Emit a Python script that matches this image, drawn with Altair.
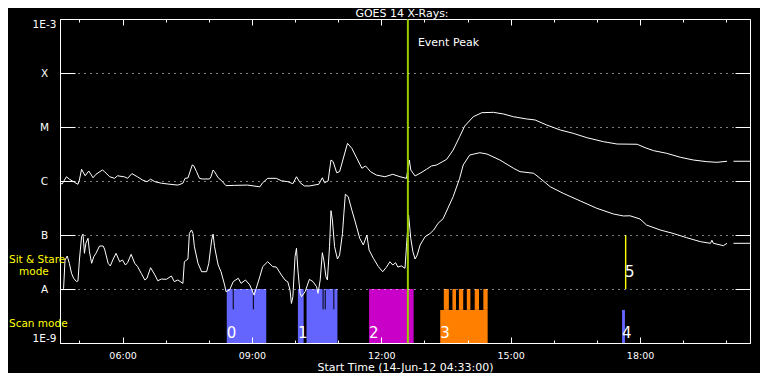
import json
import altair as alt
import pandas as pd

FONT = "DejaVu Sans"
DAY = "2012-06-14"

TITLE = "GOES 14 X-Rays:"
X_TITLE = "Start Time (14-Jun-12 04:33:00)"

# ---- GOES long channel (1-8 A) ----
long_times = ["04:33", "04:36", "04:42", "04:46", "04:53", "04:58", "05:00", "05:03", "05:08", "05:13",
              "05:19", "05:23", "05:32", "05:35", "05:42", "05:49", "05:53", "06:03", "06:07", "06:13",
              "06:21", "06:28", "06:34", "06:39", "06:45", "06:54", "07:06", "07:17", "07:24", "07:27",
              "07:31", "07:37", "07:39", "07:43", "07:47", "07:51", "08:01", "08:03", "08:06", "08:08",
              "08:13", "08:17", "08:24", "08:36", "08:54", "09:11", "09:15", "09:22", "09:34", "09:41",
              "09:50", "09:57", "10:02", "10:07", "10:13", "10:20", "10:33", "10:38", "10:41", "10:46",
              "10:50", "10:53", "10:58", "11:02", "11:13", "11:19", "11:26", "11:33", "11:38", "11:41",
              "11:45", "11:53", "12:05", "12:16", "12:26", "12:35", "12:39", "12:41", "12:47", "12:54",
              "13:03", "13:10", "13:17", "13:31", "13:40", "13:49", "13:56", "14:08", "14:20", "14:36",
              "14:50", "15:04", "15:22", "15:34", "15:50", "16:09", "16:27", "16:46", "17:09", "17:28",
              "17:56", "18:07", "18:19", "18:37", "18:56", "19:14", "19:33", "19:47", "20:01", "20:05",
              "20:10", "20:33"]
long_flux = [9.1e-7, 8.8e-7, 1.2e-6, 1.08e-6, 9.5e-7, 8.7e-7, 1.04e-6, 1.65e-6, 1.25e-6, 1.53e-6,
             1.15e-6, 1.33e-6, 1.6e-6, 1.49e-6, 1.2e-6, 1.12e-6, 1.25e-6, 1.19e-6, 1.12e-6, 1.37e-6,
             1.19e-6, 1.04e-6, 9.7e-7, 1.08e-6, 9.7e-7, 9.1e-7, 8.7e-7, 8.4e-7, 9.1e-7, 1.12e-6,
             1.14e-6, 1.98e-6, 1.92e-6, 1.49e-6, 1.12e-6, 1.09e-6, 1.09e-6, 1.19e-6, 1.6e-6, 1.49e-6,
             1.15e-6, 1.04e-6, 8.2e-7, 8.3e-7, 8.4e-7, 7.8e-7, 9.3e-7, 1.12e-6, 1.12e-6, 1.01e-6,
             9.7e-7, 8.9e-7, 1.2e-6, 9.3e-7, 8.1e-7, 8.1e-7, 8.7e-7, 1.15e-6, 9.3e-7, 1.0e-6,
             2.45e-6, 2.28e-6, 1.42e-6, 1.49e-6, 4.99e-6, 4.03e-6, 2.63e-6, 1.72e-6, 1.9e-6, 1.72e-6,
             1.49e-6, 1.29e-6, 1.2e-6, 1.33e-6, 1.2e-6, 1.12e-6, 2.45e-6, 1.6e-6, 1.24e-6, 1.39e-6,
             1.65e-6, 1.9e-6, 1.98e-6, 2.52e-6, 3.75e-6, 6.61e-6, 1.04e-5, 1.55e-5, 1.84e-5, 1.87e-5,
             1.74e-5, 1.55e-5, 1.41e-5, 1.35e-5, 1.09e-5, 8.8e-6, 7.64e-6, 6.34e-6, 5.35e-6, 4.84e-6,
             4.79e-6, 4.14e-6, 3.64e-6, 3.26e-6, 2.75e-6, 2.45e-6, 2.28e-6, 2.22e-6, 2.32e-6, None,
             2.32e-6, 2.32e-6]

# ---- GOES short channel (0.5-4 A) ----
short_times = ["04:33", "04:36", "04:38", "04:40", "04:43", "04:46", "04:49", "04:52", "04:56", "04:58",
               "05:00", "05:03", "05:05", "05:07", "05:09", "05:12", "05:14", "05:17", "05:20", "05:23",
               "05:28", "05:33", "05:35", "05:40", "05:43", "05:47", "05:51", "05:56", "06:00", "06:04",
               "06:07", "06:12", "06:17", "06:21", "06:26", "06:31", "06:34", "06:39", "06:45", "06:49",
               "06:54", "07:01", "07:08", "07:12", "07:17", "07:24", "07:26", "07:31", "07:33", "07:36",
               "07:38", "07:40", "07:45", "07:50", "07:57", "08:00", "08:04", "08:06", "08:08", "08:13",
               "08:17", "08:22", "08:24", "08:29", "08:34", "08:41", "08:45", "08:51", "08:57", "09:03",
               "09:06", "09:11", "09:15", "09:22", "09:29", "09:34", "09:41", "09:46", "09:50", "09:53",
               "09:55", "09:57", "10:00", "10:02", "10:04", "10:07", "10:09", "10:14", "10:20", "10:25",
               "10:30", "10:32", "10:35", "10:38", "10:40", "10:43", "10:45", "10:48", "10:50", "10:52",
               "10:55", "10:59", "11:02", "11:06", "11:08", "11:10", "11:14", "11:19", "11:23", "11:30",
               "11:35", "11:40", "11:43", "11:49", "11:56", "12:02", "12:07", "12:12", "12:16", "12:20",
               "12:23", "12:28", "12:33", "12:35", "12:38", "12:41", "12:44", "12:47", "12:50", "12:54",
               "13:01", "13:08", "13:13", "13:19", "13:26", "13:40", "13:49", "13:54", "14:03", "14:17",
               "14:27", "14:45", "15:04", "15:13", "15:32", "15:41", "15:55", "16:13", "16:37", "17:00",
               "17:23", "17:37", "17:46", "18:00", "18:09", "18:28", "18:46", "19:05", "19:24", "19:38",
               "19:40", "19:42", "19:56", "20:01", "20:05", "20:10", "20:33"]
short_flux = [1.03e-8, 9.6e-9, 1.03e-8, 3.44e-8, 4.08e-8, 2.99e-8, 1.95e-8, 1.58e-8, 1.37e-8, 1.41e-8,
              3.44e-8, 9.3e-8, 1.04e-7, 4.58e-8, 7.02e-8, 8.69e-8, 4.9e-8, 2.99e-8, 3.96e-8, 4.58e-8,
              6.25e-8, 6.25e-8, 5.5e-8, 2.99e-8, 2.67e-8, 3.59e-8, 4.58e-8, 3.2e-8, 3.44e-8, 2.78e-8,
              3.07e-8, 4.39e-8, 2.99e-8, 2.59e-8, 1.95e-8, 1.47e-8, 1.58e-8, 2.48e-8, 1.82e-8, 1.42e-8,
              1.53e-8, 1.51e-8, 1.74e-8, 1.37e-8, 1.47e-8, 1.27e-8, 3.2e-8, 3.59e-8, 1.07e-7, 1.24e-7,
              1.07e-7, 6.07e-8, 2.99e-8, 2.09e-8, 2.09e-8, 2.99e-8, 8.08e-8, 1.04e-7, 6.07e-8, 2.78e-8,
              2.09e-8, 1.19e-8, 8.9e-9, 9.6e-9, 1.37e-8, 1.58e-8, 1.27e-8, 1.47e-8, 1.19e-8, 7.7e-9,
              1.03e-8, 1.69e-8, 2.59e-8, 3.2e-8, 2.59e-8, 2.55e-8, 1.82e-8, 1.47e-8, 1.35e-8, 9.6e-9,
              5.4e-9, 7.2e-9, 3.96e-8, 5.67e-8, 2.25e-8, 8.3e-9, 7.2e-9, 8.9e-9, 1.51e-8, 1.37e-8,
              1.1e-8, 8.3e-9, 1.47e-8, 4.7e-8, 3.44e-8, 1.69e-8, 1.47e-8, 6.07e-8, 2.82e-7, 1.9e-7,
              6.07e-8, 3.59e-8, 4.26e-8, 1.07e-7, 2.52e-7, 5.67e-7, 5.12e-7, 2.9e-7, 1.9e-7, 8.69e-8,
              6.53e-8, 1.0e-7, 5.27e-8, 3.7e-8, 2.59e-8, 2.09e-8, 2.52e-8, 3.2e-8, 2.78e-8, 3.07e-8,
              2.55e-8, 2.67e-8, 2.42e-8, 6.07e-8, 2.35e-7, 8.69e-8, 4.9e-8, 3.59e-8, 4.26e-8, 6.53e-8,
              9.3e-8, 1.07e-7, 1.24e-7, 1.65e-7, 2.0e-7, 5.12e-7, 1.12e-6, 1.98e-6, 3.03e-6, 3.34e-6,
              3.16e-6, 2.45e-6, 1.72e-6, 1.49e-6, 1.39e-6, 1.12e-6, 7.84e-7, 5.92e-7, 4.26e-7, 3.12e-7,
              2.45e-7, 2.25e-7, 2.27e-7, 1.98e-7, 1.53e-7, 1.24e-7, 1.07e-7, 8.91e-8, 7.52e-8, 7.02e-8,
              8.0e-8, 7.02e-8, 6.34e-8, 7.02e-8, None, 7.02e-8, 7.02e-8]

# ---- observation blocks (scan / sit & stare) ----
block_obs = ["0", "1", "1", "2", "3", "3", "3", "3", "3", "3", "3", "4", "5"]
block_start = ["08:25", "10:04", "10:16", "11:43", "13:22", "13:27", "13:39", "13:48", "13:59", "14:10",
               "14:22", "17:35", "17:39"]
block_end = ["09:20", "10:12", "10:59", "12:45", "14:28", "13:34", "13:44", "13:54", "14:04", "14:16",
             "14:28", "17:39", "17:41"]
block_low = [1e-9, 1e-9, 1e-9, 1e-9, 1e-9, 4.1e-9, 4.1e-9, 4.1e-9, 4.1e-9, 4.1e-9, 4.1e-9, 1e-9, 1e-8]
block_high = [1e-8, 1e-8, 1e-8, 1e-8, 4.1e-9, 1e-8, 1e-8, 1e-8, 1e-8, 1e-8, 1e-8, 4.1e-9, 1e-7]

obs_ids = ["0", "1", "2", "3", "4", "5"]
obs_colors = ["#6464ff", "#6464ff", "#c800c8", "#ff8000", "#6464ff", "#ffff00"]
obs_label_time = ["08:25", "10:04", "11:43", "13:22", "17:35", "17:39"]
obs_label_flux = [1.56e-9, 1.56e-9, 1.56e-9, 1.56e-9, 1.56e-9, 2.06e-8]

# gaps inside scan blocks
gap_times = ["08:34", "09:02", "10:39", "10:42", "10:54"]
gap_low = [4.2e-9, 4.2e-9, 4.2e-9, 4.2e-9, 4.2e-9]
gap_high = [1e-8, 1e-8, 1e-8, 1e-8, 1e-8]

event_time = ["12:37"]
event_label = ["Event Peak"]
event_label_flux = [3.6e-4]

y_levels = [1e-9, 1e-8, 1e-7, 1e-6, 1e-5, 1e-4, 1e-3]
y_labels = ["1E-9", "A", "B", "C", "M", "X", "1E-3"]
mode_levels = [3.59e-8, 2.25e-9]
mode_labels = ["Sit & Stare", "Scan mode"]
mode_sub_levels = [2.15e-8]
mode_sub_labels = ["mode"]
major_hours = [6, 9, 12, 15, 18]
minor_hours = list(range(5, 21))


def ts(hhmm):
    return f"{DAY}T{hhmm}:00"


def dt(h, m=0):
    return alt.DateTime(year=2012, month=6, date=14, hours=h, minutes=m)


curves_df = pd.DataFrame({
    "t": [ts(t) for t in long_times] + [ts(t) for t in short_times],
    "flux": long_flux + short_flux,
    "series": ["long"] * len(long_times) + ["short"] * len(short_times),
})
blocks_df = pd.DataFrame({
    "obs": block_obs,
    "start": [ts(t) for t in block_start],
    "end": [ts(t) for t in block_end],
    "low": block_low,
    "high": block_high,
})
gaps_df = pd.DataFrame({"t": [ts(t) for t in gap_times], "low": gap_low, "high": gap_high})
obs_lab_df = pd.DataFrame({"t": [ts(t) for t in obs_label_time], "flux": obs_label_flux, "label": obs_ids})
event_df = pd.DataFrame({"t": [ts(t) for t in event_time], "flux": event_label_flux, "label": event_label})

x_scale = alt.Scale(domain=[dt(4, 33), dt(20, 33)], nice=False)
y_scale = alt.Scale(type="log", domain=[1e-9, 1e-3], nice=False)

major_vals = [dt(h) for h in major_hours]
minor_vals = [dt(h) for h in minor_hours]

y_label_expr = f"{json.dumps(y_labels)}[round(log(datum.value) / LN10) + 9]"
mode_label_expr = f"{json.dumps(mode_labels)}[indexof({json.dumps(mode_levels)}, datum.value)]"
mode_sub_expr = f"{json.dumps(mode_sub_labels)}[indexof({json.dumps(mode_sub_levels)}, datum.value)]"
y_label_baseline = {
    "condition": [
        {"test": f"datum.value >= {y_levels[-1] * 0.9}", "value": "top"},
        {"test": f"datum.value <= {y_levels[0] * 1.1}", "value": "bottom"},
    ],
    "value": "middle",
}

tick_common = dict(domain=False, grid=False, tickColor="white", tickWidth=1, title=None, zindex=1)
mode_axis_common = dict(labelColor="#ffff00", labelAlign="left", labelBaseline="middle", ticks=False,
                        tickSize=0, labelFont=FONT, labelFontSize=10.5, labelOverlap=False,
                        labelFlush=False, domain=False, grid=False, title=None, zindex=1)

bars = alt.Chart(blocks_df).mark_rect(strokeWidth=0).encode(
    x=alt.X("start:T", scale=x_scale,
            axis=alt.Axis(orient="top", offset=-6, tickSize=6, values=major_vals, labels=False, **tick_common)),
    x2="end:T",
    y=alt.Y("low:Q", scale=y_scale,
            axis=alt.Axis(orient="right", offset=-15, tickSize=15, values=y_levels, labels=False, **tick_common)),
    y2="high:Q",
    color=alt.Color("obs:N", scale=alt.Scale(domain=obs_ids, range=obs_colors), legend=None),
)

gaps = alt.Chart(gaps_df).mark_rule(color="black", strokeWidth=1).encode(
    x=alt.X("t:T", scale=x_scale,
            axis=alt.Axis(orient="top", offset=-3, tickSize=3, values=minor_vals, labels=False, **tick_common)),
    y=alt.Y("low:Q", scale=y_scale,
            axis=alt.Axis(orient="left", values=mode_levels, labelExpr=mode_label_expr, labelPadding=51.5,
                          **mode_axis_common)),
    y2="high:Q",
)

lines = alt.Chart(curves_df).mark_line(color="white", strokeWidth=1).encode(
    x=alt.X("t:T", scale=x_scale,
            axis=alt.Axis(orient="bottom", offset=-6, tickSize=6, values=major_vals, format="%H:%M",
                          labelColor="white", labelFont=FONT, labelFontSize=9.5, labelPadding=15,
                          labelBaseline="alphabetic", labelFlush=False, labelOverlap=False,
                          domain=False, grid=False, tickColor="white", zindex=1,
                          title=X_TITLE, titleColor="white", titleFont=FONT, titleFontSize=11,
                          titleFontWeight="normal", titleY=33, titleBaseline="alphabetic")),
    y=alt.Y("flux:Q", scale=y_scale,
            axis=alt.Axis(orient="left", offset=-15, tickSize=15, values=y_levels, labelExpr=y_label_expr,
                          labelColor="white", labelFont=FONT, labelFontSize=10.5, labelAlign="center",
                          labelBaseline=y_label_baseline, labelPadding=16, labelFlush=False,
                          labelOverlap=False,
                          domain=False, tickColor="white", grid=True, gridColor="white", gridDash=[1, 5],
                          gridWidth=1, gridOpacity=1, title=None, zindex=1)),
    detail="series:N",
)

event_rule = alt.Chart(event_df).mark_rule(color="#99cc00", strokeWidth=2).encode(
    x=alt.X("t:T", scale=x_scale,
            axis=alt.Axis(orient="bottom", offset=-3, tickSize=3, values=minor_vals, labels=False, **tick_common)),
)

obs_text = alt.Chart(obs_lab_df).mark_text(color="white", align="left", baseline="middle",
                                           font=FONT, fontSize=15).encode(
    x=alt.X("t:T", scale=x_scale, axis=None),
    y=alt.Y("flux:Q", scale=y_scale,
            axis=alt.Axis(orient="left", values=mode_sub_levels, labelExpr=mode_sub_expr, labelPadding=41.5,
                          **mode_axis_common)),
    text="label:N",
)

event_text = alt.Chart(event_df).mark_text(color="white", align="left", baseline="middle", dx=10,
                                           font=FONT, fontSize=11).encode(
    x=alt.X("t:T", scale=x_scale, axis=None),
    y=alt.Y("flux:Q", scale=y_scale, axis=None),
    text="label:N",
)

chart = alt.layer(bars, gaps, lines, event_rule, obs_text, event_text).resolve_axis(
    x="independent", y="independent"
).properties(
    width=690,
    height=324,
    padding={"left": 52, "top": 11, "right": 10, "bottom": 30},
    autosize=alt.AutoSizeParams(type="none"),
    title=alt.TitleParams(TITLE, color="white", font=FONT, fontSize=11, fontWeight="normal",
                          anchor="middle", offset=-1, dx=-3),
).configure(
    background="black",
).configure_view(
    stroke="white", strokeWidth=1,
)

chart.save("out.html", embed_options={"renderer": "svg", "actions": False})
